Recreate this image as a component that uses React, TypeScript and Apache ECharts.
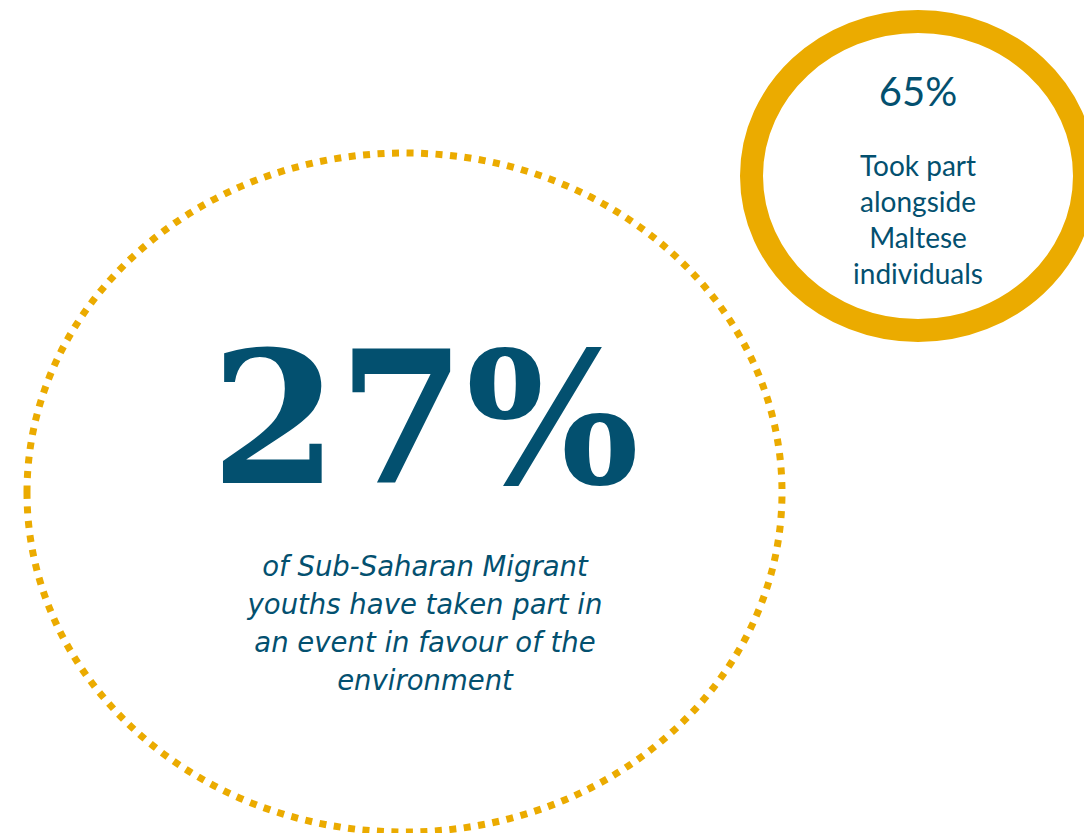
import React, { useEffect, useRef } from "react";
import * as echarts from "echarts";

// ---- data ----
const mainValue = 27;
const mainLabelLines = [
  "of Sub-Saharan Migrant",
  "youths have taken part in",
  "an event in favour of the",
  "environment",
];
const subValue = 65;
const subLabelLines = ["Took part", "alongside", "Maltese", "individuals"];

const GOLD = "#EBAB00";
const TEAL = "#03506F";

export default function App() {
  const ref = useRef<HTMLDivElement>(null);

  useEffect(() => {
    document.body.style.margin = "0";
    if (!ref.current) return;
    const chart = echarts.init(ref.current, null, { renderer: "svg" });

    const mainLines = mainLabelLines.map((t, i) => ({
      type: "text",
      x: 425,
      y: 566 + i * 38,
      style: {
        text: t,
        fontFamily: "'DejaVu Sans', sans-serif",
        fontStyle: "italic",
        fontWeight: "normal",
        fontSize: 27.5,
        fill: TEAL,
        align: "center",
        verticalAlign: "middle",
      },
    }));

    const subLines = subLabelLines.map((t, i) => ({
      type: "text",
      x: 918,
      y: 165 + i * 36,
      style: {
        text: t,
        fontFamily: "Lato, sans-serif",
        fontSize: 28,
        fill: TEAL,
        align: "center",
        verticalAlign: "middle",
      },
    }));

    chart.setOption({
      animation: false,
      backgroundColor: "#ffffff",
      graphic: [
        {
          type: "ellipse",
          shape: { cx: 404.5, cy: 492.5, rx: 377.5, ry: 339.5 },
          style: {
            fill: "none",
            stroke: GOLD,
            lineWidth: 7,
            lineDash: [7, 7.5],
            lineCap: "butt",
          },
        },
        {
          type: "ellipse",
          shape: { cx: 918, cy: 176, rx: 166.5, ry: 154.5 },
          style: { fill: "none", stroke: GOLD, lineWidth: 23 },
        },
        {
          type: "text",
          x: 425,
          y: 418,
          style: {
            text: `${mainValue}%`,
            fontFamily: "'DejaVu Serif', serif",
            fontWeight: "bold",
            fontSize: 183,
            fill: TEAL,
            align: "center",
            verticalAlign: "middle",
          },
        },
        {
          type: "text",
          x: 918,
          y: 91,
          style: {
            text: `${subValue}%`,
            fontFamily: "Lato, sans-serif",
            fontSize: 40,
            fill: TEAL,
            align: "center",
            verticalAlign: "middle",
          },
        },
        ...mainLines,
        ...subLines,
      ],
    });

    return () => chart.dispose();
  }, []);

  return <div ref={ref} style={{ width: 1084, height: 833 }} />;
}
